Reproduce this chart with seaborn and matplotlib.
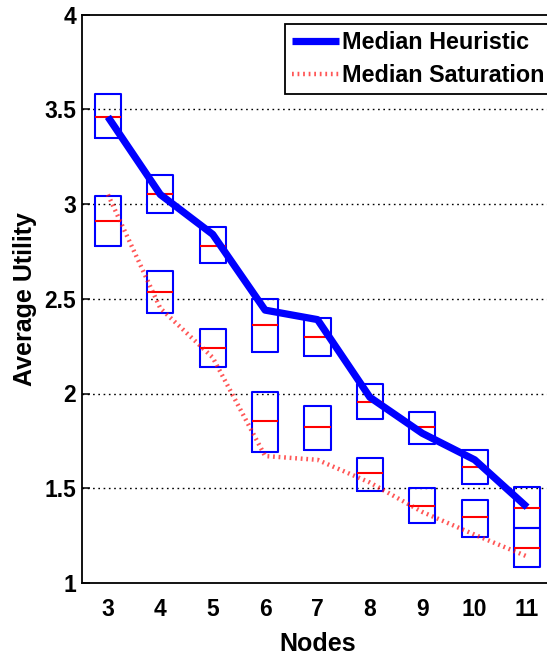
import numpy as np
import pandas as pd
import matplotlib
matplotlib.use("Agg")
import matplotlib.pyplot as plt
import seaborn as sns

# ---- data ----
nodes = [3, 4, 5, 6, 7, 8, 9, 10, 11]

heur_lo = [3.347, 2.951, 2.687, 2.221, 2.198, 1.864, 1.732, 1.523, 1.289]
heur_med = [3.458, 3.051, 2.779, 2.362, 2.300, 1.955, 1.825, 1.611, 1.398]
heur_hi = [3.580, 3.153, 2.880, 2.500, 2.400, 2.049, 1.904, 1.702, 1.508]

sat_lo = [2.779, 2.424, 2.139, 1.693, 1.702, 1.487, 1.315, 1.245, 1.086]
sat_med = [2.909, 2.534, 2.239, 1.857, 1.825, 1.579, 1.407, 1.348, 1.183]
sat_hi = [3.042, 2.649, 2.341, 2.008, 1.934, 1.661, 1.500, 1.438, 1.289]

median_heuristic = [3.46, 3.05, 2.84, 2.44, 2.39, 1.98, 1.79, 1.65, 1.40]
median_saturation = [3.05, 2.45, 2.19, 1.67, 1.65, 1.53, 1.375, 1.255, 1.14]

y_ticks = [1, 1.5, 2, 2.5, 3, 3.5, 4]
y_ticklabels = ["1", "1.5", "2", "2.5", "3", "3.5", "4"]

# ---- build long-form tables so that quartiles = box edges ----
def box_table(lo, med, hi, group):
    rows = []
    for n, a, m, b in zip(nodes, lo, med, hi):
        for v in (a, a, m, b, b):
            rows.append({"Nodes": n, "Utility": v, "group": group})
    return pd.DataFrame(rows)

df_heur = box_table(heur_lo, heur_med, heur_hi, "Heuristic")
df_sat = box_table(sat_lo, sat_med, sat_hi, "Saturation")
lines_df = pd.DataFrame({"Nodes": nodes,
                         "Heuristic": median_heuristic,
                         "Saturation": median_saturation})

sns.set_theme(style="white")
plt.rcParams["font.family"] = ["Liberation Sans", "DejaVu Sans"]
plt.rcParams["font.weight"] = "bold"
plt.rcParams["text.color"] = "black"
plt.rcParams["axes.labelcolor"] = "black"

fig = plt.figure(figsize=(5.47, 6.55), dpi=100)
ax = fig.add_axes([81.7 / 547, 72 / 655, 471.6 / 547, 568.5 / 655])

box_kw = dict(x="Nodes", y="Utility", native_scale=True, width=0.5,
              fill=False, color="#0000ff", linecolor="#0000ff", linewidth=1.5,
              showcaps=False, showfliers=False, whis=0,
              medianprops={"color": "#ff0000", "linewidth": 1.5},
              whiskerprops={"linewidth": 0}, ax=ax)
sns.boxplot(data=df_heur, **box_kw)
sns.boxplot(data=df_sat, **box_kw)

# make sure medians are red and boxes pure blue
for ln in ax.lines:
    xd = np.asarray(ln.get_xdata(), dtype=float)
    yd = np.asarray(ln.get_ydata(), dtype=float)
    if len(xd) == 2 and np.isclose(yd[0], yd[1]) and abs(xd[1] - xd[0]) > 0.3:
        ln.set_color("#ff0000")
        ln.set_linewidth(1.5)
    elif len(xd) > 2:
        ln.set_color("#0000ff")
        ln.set_linewidth(1.5)

sns.lineplot(data=lines_df, x="Nodes", y="Heuristic", ax=ax, color="#0000ff",
             linewidth=5.2, label="Median Heuristic", zorder=5,
             solid_joinstyle="round", solid_capstyle="butt")
sns.lineplot(data=lines_df, x="Nodes", y="Saturation", ax=ax, color="#ff1010",
             linewidth=3.2, alpha=0.7, linestyle=(0, (0.4, 0.85)),
             label="Median Saturation", zorder=4)

ax.set_xlim(2.5, 11.5)
ax.set_ylim(1, 4)
ax.set_xticks(nodes)
ax.set_xticklabels([str(n) for n in nodes], fontsize=16.5, fontweight="bold")
ax.set_yticks(y_ticks)
ax.set_yticklabels(y_ticklabels, fontsize=16.5, fontweight="bold")
ax.tick_params(axis="x", length=0, pad=11, colors="black")
ax.tick_params(axis="y", direction="in", length=6, width=1.1, pad=4,
               colors="black", left=True, right=False)

for yv in y_ticks[1:-1]:
    ax.axhline(yv, color="black", linewidth=1.0, linestyle=(0, (1.2, 2.6)),
               zorder=1)

for s in ["left", "top", "bottom", "right"]:
    ax.spines[s].set_color("black")
    ax.spines[s].set_linewidth(1.3)
    ax.spines[s].set_visible(True)

ax.set_xlabel("Nodes", fontsize=18, fontweight="bold", labelpad=8,
              color="black")
ax.set_ylabel("Average Utility", fontsize=18, fontweight="bold", labelpad=5,
              color="black")

leg = ax.legend(loc="upper left", bbox_to_anchor=(285 / 547, 1 - 24 / 655),
                bbox_transform=fig.transFigure,
                prop={"weight": "bold", "size": 16.8},
                frameon=True, fancybox=False, framealpha=1,
                edgecolor="black", handlelength=2.0, handletextpad=0.15,
                labelspacing=0.42, borderpad=0.3, borderaxespad=0)
leg.get_frame().set_linewidth(1.3)
for t in leg.get_texts():
    t.set_color("black")

fig.savefig("out.png", dpi=100)
